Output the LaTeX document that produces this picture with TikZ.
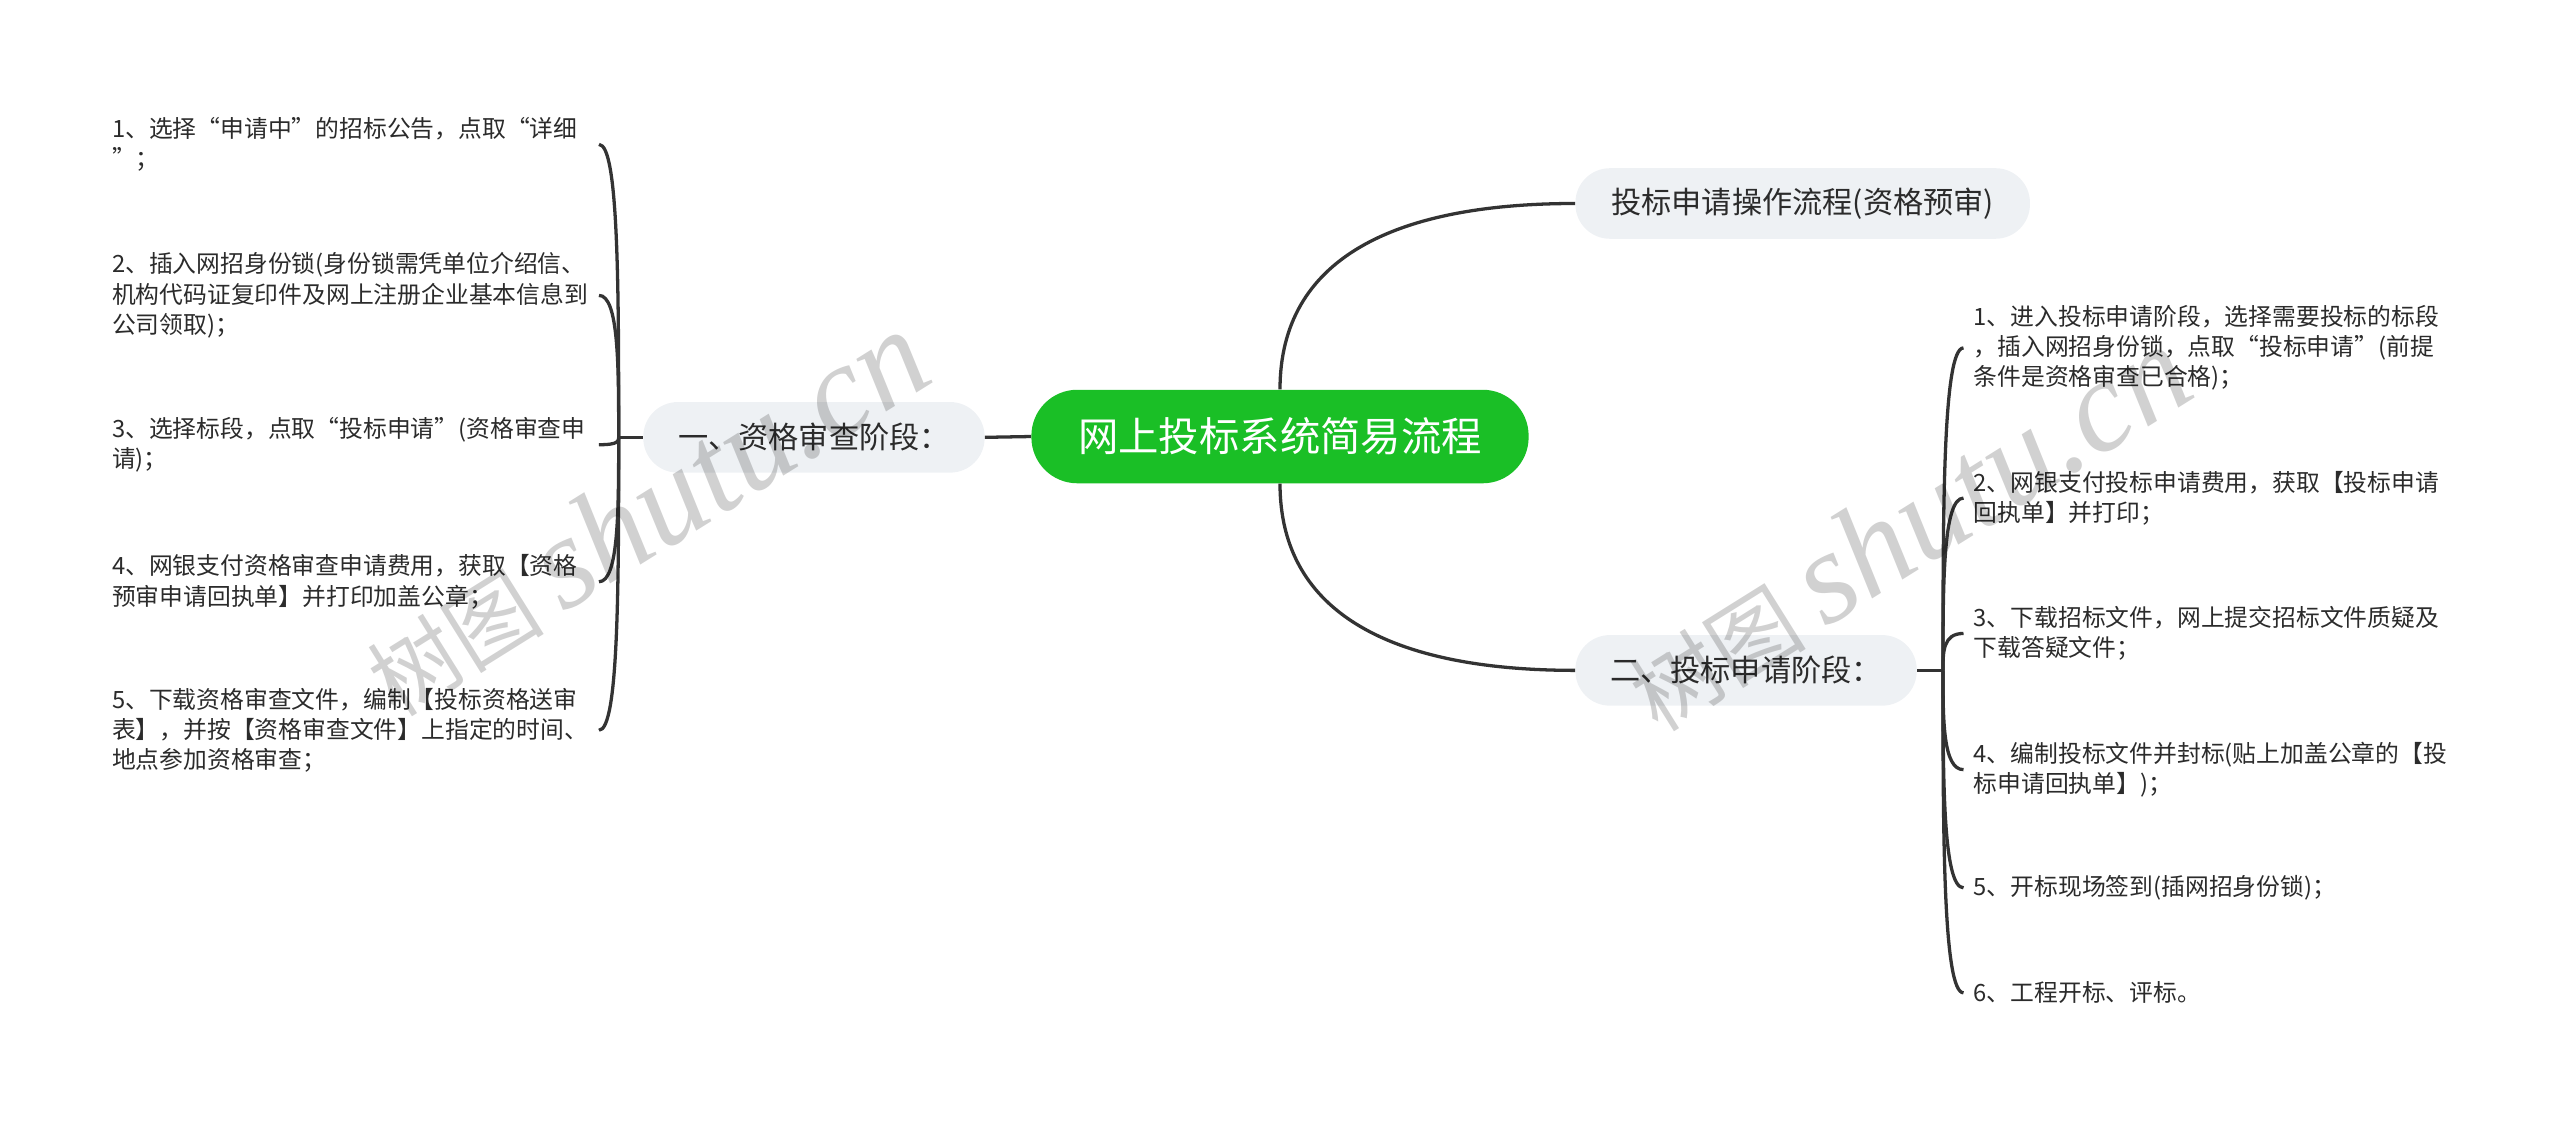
\documentclass[tikz,border=0pt]{standalone}
\usepackage{fontspec}
\setmainfont{Noto Sans CJK SC}
\newfontfamily\wmlatin{Liberation Serif}
\usetikzlibrary{calc}
\definecolor{rootgreen}{HTML}{1ABF26}
\definecolor{branchgray}{HTML}{EEF1F4}
\definecolor{linegray}{HTML}{333333}
\definecolor{textgray}{HTML}{2B2B2B}
\newcommand{\leafline}[2]{
	\draw[conn] (#1) .. controls ($(#1)!0.5!(#1 |- #2)$) and (#1 |- #2) .. (#2);
}
\newcommand{\wmtext}{\fontsize{54}{54}\selectfont 树图 {\wmlatin\itshape\fontsize{80}{80}\selectfont shutu.cn}}

\begin{document}
\begin{tikzpicture}[x=1pt,y=-1pt,
	conn/.style={draw=linegray, line width=2pt},
	root/.style={fill=rootgreen, text=white, rounded corners=28pt, minimum width=303pt, minimum height=57pt, font=\fontsize{24.6}{28}\selectfont},
	branch/.style={fill=branchgray, text=textgray, rounded corners=21pt, minimum height=43pt, font=\fontsize{18.4}{22}\selectfont},
	leaf/.style={text=textgray, align=left, text width=292pt, inner xsep=4.5pt, inner ysep=2pt, font=\fontsize{14.5}{18.4}\selectfont},
	wm/.style={text=black, text opacity=0.18, rotate=32, inner sep=0pt}]
	\useasboundingbox (0,0) rectangle (1560,683);

	\node[root] (root) at (780,266) {网上投标系统简易流程};
	\node[branch, minimum width=208pt] (qual) at (496,266.5) {一、资格审查阶段：};
	\node[branch, minimum width=277pt] (ops) at (1098.5,124) {投标申请操作流程(资格预审)};
	\node[branch, minimum width=208pt] (bid) at (1064,408.5) {二、投标申请阶段：};

	\coordinate (qualfork) at (377,266.5);
	\coordinate (bidfork) at (1184,408.5);

	\node[leaf, anchor=east] (q1) at (365,88) {1、选择“申请中”的招标公告，点取“详细\\”；};
	\node[leaf, anchor=east] (q2) at (365,180) {2、插入网招身份锁(身份锁需凭单位介绍信、\\机构代码证复印件及网上注册企业基本信息到\\公司领取)；};
	\node[leaf, anchor=east] (q3) at (365,271) {3、选择标段，点取“投标申请”(资格审查申\\请)；};
	\node[leaf, anchor=east] (q4) at (365,354.5) {4、网银支付资格审查申请费用，获取【资格\\预审申请回执单】并打印加盖公章；};
	\node[leaf, anchor=east] (q5) at (365,445) {5、下载资格审查文件，编制【投标资格送审\\表】，并按【资格审查文件】上指定的时间、\\地点参加资格审查；};

	\node[leaf, anchor=west, text width=300pt, inner xsep=6pt] (b1) at (1196.5,212) {1、进入投标申请阶段，选择需要投标的标段\\，插入网招身份锁，点取“投标申请”(前提\\条件是资格审查已合格)；};
	\node[leaf, anchor=west, text width=300pt, inner xsep=6pt] (b2) at (1196.5,303.5) {2、网银支付投标申请费用，获取【投标申请\\回执单】并打印；};
	\node[leaf, anchor=west, text width=300pt, inner xsep=6pt] (b3) at (1196.5,386) {3、下载招标文件，网上提交招标文件质疑及\\下载答疑文件；};
	\node[leaf, anchor=west, text width=300pt, inner xsep=6pt] (b4) at (1196.5,469) {4、编制投标文件并封标(贴上加盖公章的【投\\标申请回执单】)；};
	\node[leaf, anchor=west, text width=300pt, inner xsep=6pt] (b5) at (1196.5,541) {5、开标现场签到(插网招身份锁)；};
	\node[leaf, anchor=west, text width=300pt, inner xsep=6pt] (b6) at (1196.5,605) {6、工程开标、评标。};

	\draw[conn] (root.west) -- (qual.east);
	\draw[conn] (root.north) .. controls ($(root.north)+(0,-80)$) and ($(ops.west)+(-110,0)$) .. (ops.west);
	\draw[conn] (root.south) .. controls ($(root.south)+(0,80)$) and ($(bid.west)+(-110,0)$) .. (bid.west);
	\draw[conn] (qual.west) -- (qualfork);
	\draw[conn] (bid.east) -- (bidfork);
	\foreach \n in {1,...,5} {\leafline{qualfork}{q\n.east}}
	\foreach \n in {1,...,6} {\leafline{bidfork}{b\n.west}}

	\node[wm] (wm1) at (393,313) {\wmtext};
	\node[wm] (wm2) at (1162,322) {\wmtext};
\end{tikzpicture}
\end{document}
